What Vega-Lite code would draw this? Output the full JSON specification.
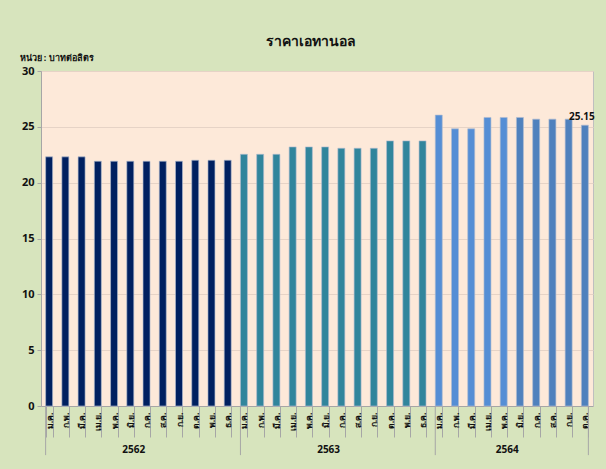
{
  "$schema": "https://vega.github.io/schema/vega-lite/v6.json",
  "width": 552,
  "height": 335,
  "autosize": {"type": "none"},
  "padding": {"left": 41, "top": 71, "right": 13, "bottom": 63},
  "background": "#D7E4BD",
  "title": {
    "text": "ราคาเอทานอล",
    "anchor": "middle",
    "dx": -6,
    "fontSize": 14,
    "fontWeight": "bold",
    "color": "#111111",
    "font": "Tahoma, Noto Sans, DejaVu Sans, sans-serif"
  },
  "config": {
    "font": "Tahoma, Noto Sans, DejaVu Sans, sans-serif",
    "view": {"fill": "#FDE9D9", "stroke": "#BFBFBF", "strokeWidth": 1}
  },
  "data": {
    "values": [
      {"id": "2562-01", "year": "2562", "month": "ม.ค.", "price": 22.31},
      {"id": "2562-02", "year": "2562", "month": "ก.พ.", "price": 22.31},
      {"id": "2562-03", "year": "2562", "month": "มี.ค.", "price": 22.31},
      {"id": "2562-04", "year": "2562", "month": "เม.ย.", "price": 21.92},
      {"id": "2562-05", "year": "2562", "month": "พ.ค.", "price": 21.92},
      {"id": "2562-06", "year": "2562", "month": "มิ.ย.", "price": 21.92},
      {"id": "2562-07", "year": "2562", "month": "ก.ค.", "price": 21.92},
      {"id": "2562-08", "year": "2562", "month": "ส.ค.", "price": 21.92},
      {"id": "2562-09", "year": "2562", "month": "ก.ย.", "price": 21.92},
      {"id": "2562-10", "year": "2562", "month": "ต.ค.", "price": 22.01},
      {"id": "2562-11", "year": "2562", "month": "พ.ย.", "price": 22.01},
      {"id": "2562-12", "year": "2562", "month": "ธ.ค.", "price": 22.01},
      {"id": "2563-01", "year": "2563", "month": "ม.ค.", "price": 22.54},
      {"id": "2563-02", "year": "2563", "month": "ก.พ.", "price": 22.54},
      {"id": "2563-03", "year": "2563", "month": "มี.ค.", "price": 22.54},
      {"id": "2563-04", "year": "2563", "month": "เม.ย.", "price": 23.2},
      {"id": "2563-05", "year": "2563", "month": "พ.ค.", "price": 23.2},
      {"id": "2563-06", "year": "2563", "month": "มิ.ย.", "price": 23.2},
      {"id": "2563-07", "year": "2563", "month": "ก.ค.", "price": 23.08},
      {"id": "2563-08", "year": "2563", "month": "ส.ค.", "price": 23.08},
      {"id": "2563-09", "year": "2563", "month": "ก.ย.", "price": 23.08},
      {"id": "2563-10", "year": "2563", "month": "ต.ค.", "price": 23.74},
      {"id": "2563-11", "year": "2563", "month": "พ.ย.", "price": 23.74},
      {"id": "2563-12", "year": "2563", "month": "ธ.ค.", "price": 23.74},
      {"id": "2564-01", "year": "2564", "month": "ม.ค.", "price": 26.05},
      {"id": "2564-02", "year": "2564", "month": "ก.พ.", "price": 24.82},
      {"id": "2564-03", "year": "2564", "month": "มี.ค.", "price": 24.82},
      {"id": "2564-04", "year": "2564", "month": "เม.ย.", "price": 25.84},
      {"id": "2564-05", "year": "2564", "month": "พ.ค.", "price": 25.84},
      {"id": "2564-06", "year": "2564", "month": "มิ.ย.", "price": 25.84},
      {"id": "2564-07", "year": "2564", "month": "ก.ค.", "price": 25.69},
      {"id": "2564-08", "year": "2564", "month": "ส.ค.", "price": 25.69},
      {"id": "2564-09", "year": "2564", "month": "ก.ย.", "price": 25.69},
      {"id": "2564-10", "year": "2564", "month": "ต.ค.", "price": 25.15}
    ]
  },
  "encoding": {
    "x": {
      "field": "id",
      "type": "ordinal",
      "sort": null,
      "scale": {"paddingInner": 0.57, "paddingOuter": 0.285},
      "axis": {
        "title": null,
        "labelAngle": 270,
        "labelFontSize": 8.5,
        "labelFontWeight": "bold",
        "labelColor": "#111111",
        "labelPadding": -25,
        "labelExpr": "['ม.ค.','ก.พ.','มี.ค.','เม.ย.','พ.ค.','มิ.ย.','ก.ค.','ส.ค.','ก.ย.','ต.ค.','พ.ย.','ธ.ค.'][toNumber(substring(datum.value,5,7))-1]",
        "tickBand": "extent",
        "tickSize": 31,
        "tickColor": "#A6A6A6",
        "domainColor": "#A6A6A6"
      }
    },
    "y": {
      "field": "price",
      "type": "quantitative",
      "scale": {"domain": [0, 30], "nice": false},
      "axis": {
        "values": [0, 5, 10, 15, 20, 25, 30],
        "title": "หน่วย : บาทต่อลิตร",
        "titleAngle": 0,
        "titleAlign": "left",
        "titleBaseline": "middle",
        "titleX": -22,
        "titleY": -14,
        "titleFontSize": 9,
        "titleFontWeight": "bold",
        "titleColor": "#111111",
        "labelFontSize": 11,
        "labelFontWeight": "bold",
        "labelColor": "#111111",
        "labelPadding": 3,
        "tickSize": 4,
        "tickColor": "#A6A6A6",
        "domainColor": "#A6A6A6",
        "gridColor": "#E6D3C6",
        "gridWidth": 1
      }
    }
  },
  "layer": [
    {
      "mark": {"type": "bar", "stroke": "#AEBBD0", "strokeWidth": 0.8, "strokeOpacity": 0.8},
      "encoding": {
        "color": {
          "condition": {
            "test": "datum.year == '2564' && toNumber(substring(datum.id,5,7)) >= 6",
            "value": "#4F81BD"
          },
          "field": "year",
          "type": "nominal",
          "scale": {"domain": ["2562", "2563", "2564"], "range": ["#002060", "#31859C", "#558ED5"]},
          "legend": null
        }
      }
    },
    {
      "transform": [{"filter": "datum.month == 'ม.ค.'"}],
      "mark": {"type": "rule", "color": "#A6A6A6", "strokeWidth": 1},
      "encoding": {
        "x": {"field": "id", "type": "ordinal", "bandPosition": 0},
        "y": {"datum": 0},
        "y2": {"datum": -4.4}
      }
    },
    {
      "transform": [{"filter": "datum.id == '2564-10'"}],
      "mark": {"type": "rule", "color": "#A6A6A6", "strokeWidth": 1},
      "encoding": {
        "x": {"field": "id", "type": "ordinal", "bandPosition": 1},
        "y": {"datum": 0},
        "y2": {"datum": -4.4}
      }
    },
    {
      "transform": [{"filter": "datum.id == '2562-06' || datum.id == '2563-06' || datum.id == '2564-05'"}],
      "mark": {"type": "text", "fontSize": 10, "fontWeight": "bold", "color": "#111111", "baseline": "middle"},
      "encoding": {
        "x": {"field": "id", "type": "ordinal", "bandPosition": 1},
        "y": {"datum": -3.9},
        "text": {"field": "year"}
      }
    },
    {
      "transform": [{"filter": "datum.id == '2564-10'"}],
      "mark": {"type": "text", "fontSize": 10, "fontWeight": "bold", "color": "#111111", "dy": -8, "dx": -3},
      "encoding": {
        "text": {"field": "price", "format": ".2f"}
      }
    }
  ]
}
